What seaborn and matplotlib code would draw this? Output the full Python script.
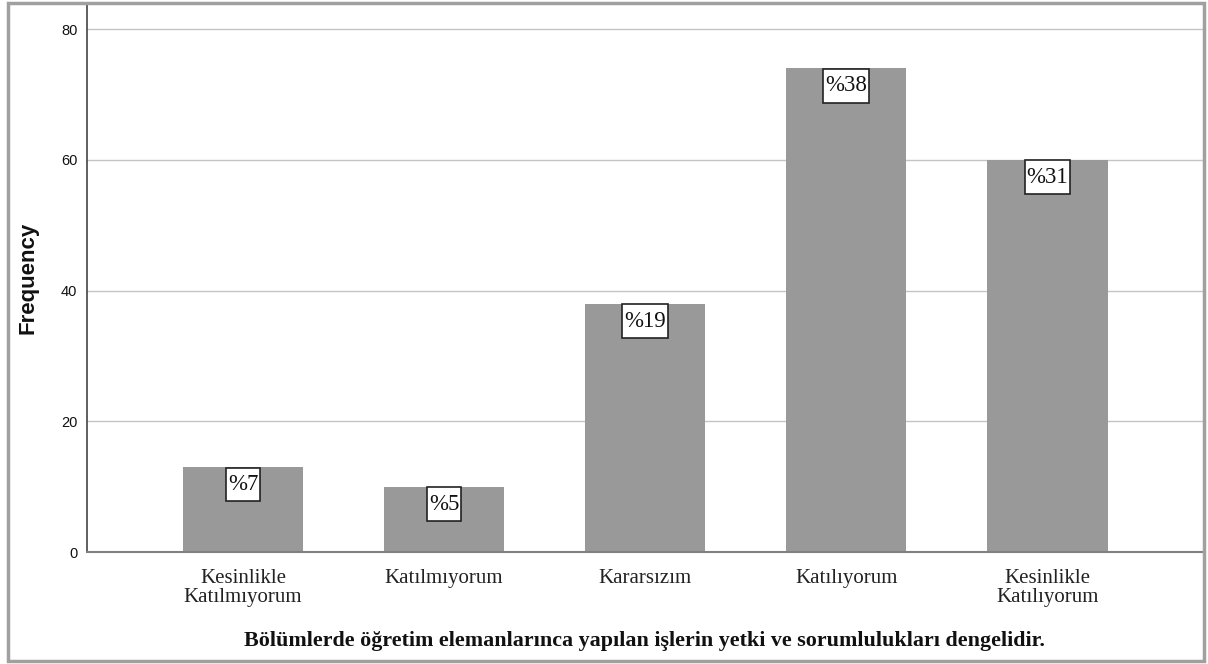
import matplotlib
matplotlib.use("Agg")
import matplotlib.pyplot as plt
import seaborn as sns
import pandas as pd
from matplotlib.patches import Rectangle
from matplotlib.path import Path

# values
categories = ["Kesinlikle\nKatılmıyorum", "Katılmıyorum", "Kararsızım",
              "Katılıyorum", "Kesinlikle\nKatılıyorum"]
frequencies = [13, 10, 38, 74, 60]
percent_labels = ["%7", "%5", "%19", "%38", "%31"]
y_ticks = [0, 20, 40, 60, 80]
x_title = "Bölümlerde öğretim elemanlarınca yapılan işlerin yetki ve sorumlulukları dengelidir."

df = pd.DataFrame({"cat": categories, "freq": frequencies})

sns.set_style("white")
plt.rcParams["font.family"] = ["Liberation Sans", "DejaVu Sans"]
serif = ["Liberation Serif", "DejaVu Serif"]


def label_box(x0, y0, width, height, mutation_size):
    # SPSS-like label box: tight at the sides, roomy top and bottom
    px = 0.08 * mutation_size
    py = 0.28 * mutation_size
    x0, x1 = x0 - px, x0 + width + px
    y0, y1 = y0 - py, y0 + height + py
    return Path([(x0, y0), (x1, y0), (x1, y1), (x0, y1), (x0, y0)], closed=True)


W, H = 1208, 664
fig = plt.figure(figsize=(W / 100, H / 100), dpi=100)
ax = fig.add_axes([87 / W, 1 - 552 / H, (1203 - 87) / W, (552 - 3) / H])

sns.barplot(data=df, x="cat", y="freq", color="#999999", saturation=1,
            width=0.6, edgecolor="none", ax=ax, zorder=2)

ax.set_xlim(-0.776, 4.775)
ax.set_ylim(0, 84)
ax.set_yticks(y_ticks)
ax.yaxis.grid(True, color="#c4c4c4", linewidth=1, zorder=0)
ax.set_axisbelow(True)

for side in ["top", "right"]:
    ax.spines[side].set_visible(False)
ax.spines["left"].set_color("#444444")
ax.spines["left"].set_linewidth(1.2)
ax.spines["bottom"].set_color("#808080")
ax.spines["bottom"].set_linewidth(1.5)

ax.tick_params(axis="y", length=0, pad=7, labelsize=10.5, labelcolor="#111111")
ax.tick_params(axis="x", length=0, pad=12)
for lbl in ax.get_xticklabels():
    lbl.set_family(serif)
    lbl.set_fontsize(15)
    lbl.set_linespacing(1.05)
    lbl.set_color("#222222")

ax.set_ylabel("Frequency", fontsize=16, fontweight="bold", labelpad=16, color="#111111")
ax.set_xlabel(x_title, fontsize=15.8, fontweight="bold", labelpad=17,
              family=serif, color="#111111")

# percentage boxes just under each bar top
for i, (v, lab) in enumerate(zip(frequencies, percent_labels)):
    ax.annotate(lab, xy=(i, v), xytext=(0, -5), textcoords="offset points",
                ha="center", va="top", fontsize=16.5, zorder=5,
                family=serif, color="#111111",
                bbox=dict(boxstyle=label_box, facecolor="white",
                          edgecolor="#222222", linewidth=1.2))

# outer frame like the original export
fig.patches.append(Rectangle((8 / W, 1 - 661 / H), (1204 - 8) / W, (661 - 3) / H,
                             transform=fig.transFigure, fill=False,
                             edgecolor="#a0a0a0", linewidth=2.5))

fig.savefig("out.png", dpi=100)
